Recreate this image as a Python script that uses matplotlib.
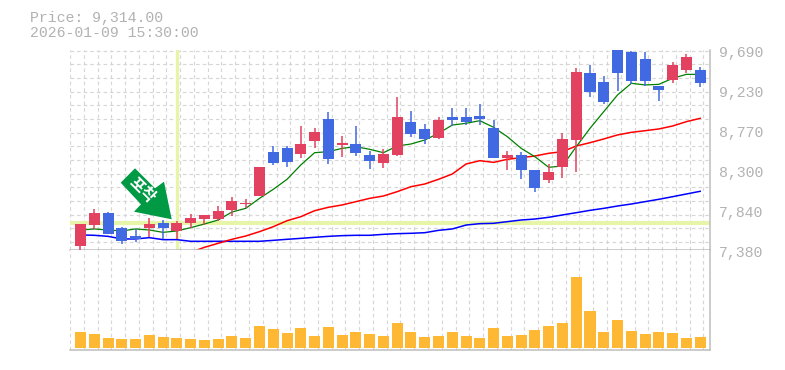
import numpy as np
import matplotlib
matplotlib.use('Agg')
import matplotlib.pyplot as plt
from matplotlib.patches import Polygon

W, H = 785, 370

opens = [7467,7708,7846,7674,7582,7674,7731,7639,7731,7777,7777,7881,7955,8042,8548,8594,
         8525,8674,8927,8628,8640,8513,8421,8513,8893,8812,8709,8950,8950,8962,8824,8479,
         8513,8341,8226,8375,8686,9456,9353,9780,9698,9617,9307,9376,9491,9491]
closes = [7720,7846,7605,7524,7547,7720,7674,7731,7789,7823,7869,7984,7961,8375,8421,8433,
          8640,8778,8467,8651,8536,8444,8525,8950,8755,8697,8916,8916,8893,8927,8479,8513,
          8341,8134,8318,8697,9468,9238,9123,9456,9364,9364,9261,9548,9640,9341]
highs = [7720,7893,7858,7685,7662,7789,7766,7754,7835,7823,7927,8030,8007,8375,8617,8617,
         8847,8824,9008,8732,8847,8559,8582,9180,9019,8870,8950,9054,9054,9100,8916,8559,
         8548,8341,8410,8766,9514,9548,9422,9780,9709,9698,9307,9583,9675,9525]
lows = [7413,7659,7605,7490,7513,7570,7547,7547,7674,7708,7754,7812,7904,8042,8398,8375,
        8479,8594,8410,8490,8502,8352,8364,8502,8720,8640,8697,8847,8858,8858,8479,8341,
        8237,8088,8191,8249,8318,9180,9100,9249,9330,9307,9134,9341,9456,9295]
ma_green = [7651,7663,7651,7640,7663,7651,7624,7640,7678,7720,7766,7858,7900,8015,8119,8234,
            8399,8540,8552,8590,8609,8579,8540,8617,8640,8686,8763,8858,8878,8908,8832,8724,
            8590,8494,8372,8387,8609,8820,9012,9204,9338,9319,9326,9395,9441,9441]
ma_red = [np.nan]*8 + [7394,7452,7498,7544,7582,7632,7689,7758,7804,7873,7912,7939,7977,8015,
          8042,8092,8149,8180,8234,8295,8410,8448,8429,8464,8483,8502,8533,8552,8617,8655,
          8698,8744,8774,8793,8813,8847,8897,8935]
ma_blue = [7594,7590,7578,7548,7548,7563,7540,7540,7521,7521,7521,7521,7521,7521,7532,7544,
           7555,7567,7578,7586,7590,7590,7601,7609,7613,7620,7647,7663,7708,7724,7728,7747,
           7766,7777,7797,7824,7850,7877,7900,7927,7950,7977,8004,8034,8065,8096]
volumes = [16,14,10,9,9,13,11,10,9,8,9,12,10,22,19,15,20,12,21,13,16,14,12,25,16,11,12,16,12,10,
           20,12,13,18,22,25,71,37,16,28,17,14,16,15,10,11]
date_labels = ['12/18','12/25','1/6','1/14','1/21','1/28','2/4','2/12','2/19']
date_slots = [4,9,14,19,24,29,34,39,44]
price_labels = ['9,690','9,230','8,770','8,300','7,840','7,380']
title_lines = ['Price: 9,314.00','2026-01-09 15:30:00']
signal_index = 7
signal_price = 7727
signal_text = '포착'

C_UP, C_DOWN = '#e2425f', '#4169e1'
C_GRID, C_AXIS, C_TEXT = '#d6d6d6', '#bdbdbd', '#b2b2b2'
C_HILITE = '#e6f5a8'
MONO = 'Liberation Mono'

fig = plt.figure(figsize=(W/100, H/100), dpi=100, facecolor='white')

def box(l, t, r, b):
    return [l/W, 1-b/H, (r-l)/W, (b-t)/H]

ax = fig.add_axes(box(70, 50, 710, 250))
av = fig.add_axes(box(70, 250, 710, 350))

n = len(opens)
idx = np.arange(n)
xlim = (-0.7625, 45.715)
grid_x = np.arange(n+1) - 0.7625

for a in (ax, av):
    a.set_xlim(*xlim)
    a.set_xticks(grid_x)
    a.tick_params(length=0, labelbottom=False, labelleft=False)
    a.set_axisbelow(True)
    a.grid(axis='x', color=C_GRID, lw=0.85, dashes=(3, 2.6))
    for s in ('top', 'left'):
        a.spines[s].set_visible(False)
    for s in ('bottom', 'right'):
        a.spines[s].set_color(C_AXIS)
        a.spines[s].set_linewidth(1.1)

ax.set_ylim(7421, 9721)
ax.set_yticks(9713 - 157*np.arange(15))
ax.grid(axis='y', color=C_GRID, lw=0.85, dashes=(3, 2.6))

ax.axvline(signal_index - 0.02, color=C_HILITE, lw=2.4, zorder=1.5)
ax.axhline(signal_price, color=C_HILITE, lw=3, zorder=1.5)

ax.plot(idx, ma_blue, color='#0000ff', lw=1.1, zorder=2)
ax.plot(idx, ma_red, color='#ff0000', lw=1.1, zorder=2.1)
ax.plot(idx, ma_green, color='#008000', lw=0.9, zorder=2.2)

colors = [C_UP if c >= o else C_DOWN for o, c in zip(opens, closes)]
ax.vlines(idx, lows, highs, colors=colors, lw=1.1, zorder=3)
ax.bar(idx, np.abs(np.array(closes)-np.array(opens)), bottom=np.minimum(opens, closes),
       width=0.8, color=colors, zorder=3.1, linewidth=0)

for i, lab in enumerate(price_labels):
    ax.text(1 + 9/640, 1 - (2.7 + 40*i)/200, lab, transform=ax.transAxes, family=MONO, fontsize=10.75,
            color=C_TEXT, va='center', ha='left', clip_on=False)

for slot, lab in zip(date_slots, date_labels):
    ax.text(grid_x[slot], -0.0615, lab, transform=ax.get_xaxis_transform(), family=MONO, fontsize=7.05,
            color='#bcbcbc', va='center', ha='left', clip_on=False)

av.set_ylim(-2, 98)
av.bar(idx, volumes, width=0.8, color='#ffb833', linewidth=0, zorder=3)

fig.text(30/W, 1-18/H, title_lines[0], family=MONO, fontsize=10.75, color=C_TEXT, va='center', ha='left')
fig.text(30/W, 1-33/H, title_lines[1], family=MONO, fontsize=10.75, color=C_TEXT, va='center', ha='left')

arrow_px = [(120.7,182.7),(135,168.3),(155,188.3),(164,181.7),(171.7,219.3),(134,211.7),(141,204.3)]
fig.add_artist(Polygon([(x/W, 1-y/H) for x, y in arrow_px], closed=True, transform=fig.transFigure,
                       facecolor='#009944', edgecolor='none', zorder=5))
fig.text(142.5/W, 1-190.5/H, signal_text, family='Noto Sans CJK KR', fontweight='bold', fontsize=11.5,
         color='white', rotation=-45, rotation_mode='anchor', va='center', ha='center', zorder=6)

fig.savefig('out.png', dpi=100, facecolor='white')
